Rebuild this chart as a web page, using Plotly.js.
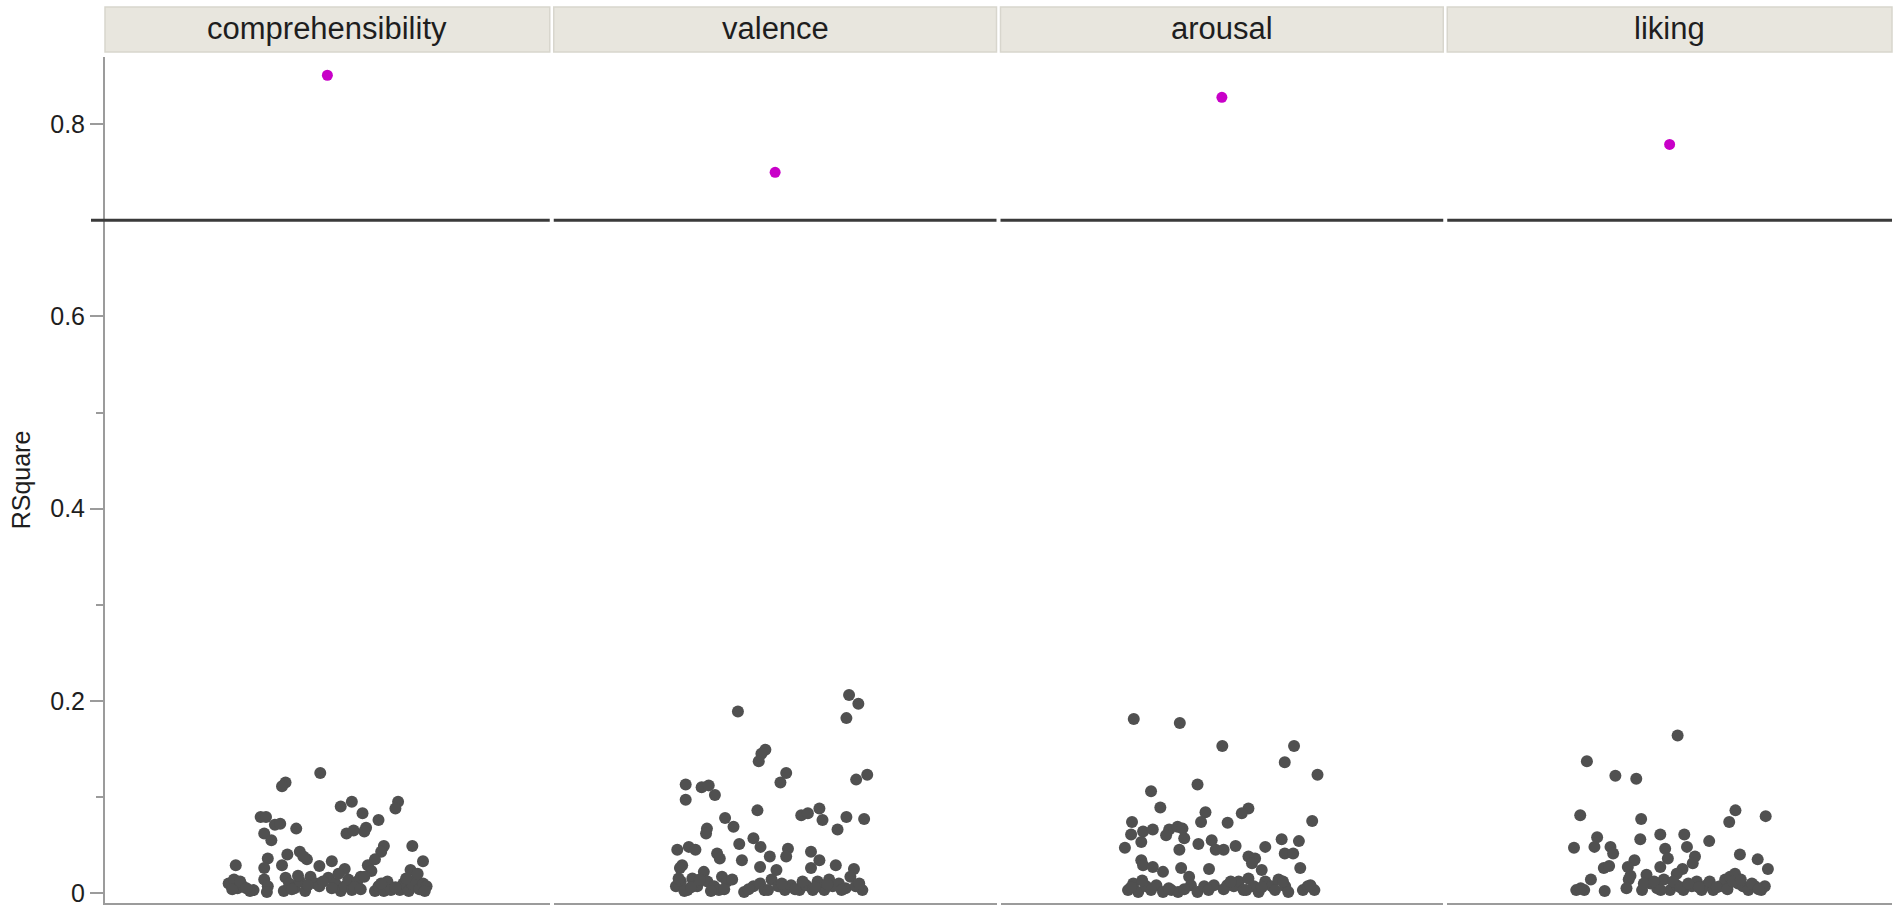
<!DOCTYPE html>
<html>
<head>
<meta charset="utf-8">
<script src="https://cdn.plot.ly/plotly-3.0.1.min.js"></script>
<style>
  html, body { margin: 0; padding: 0; background: #fff; }
  #rsq { width: 1902px; height: 913px; }
</style>
</head>
<body>
<div id="rsq"></div>
<script>
var categories = ["comprehensibility", "valence", "arousal", "liking"];

// RSquare of the actual model (magenta dots), one per category
var modelRSquare = [0.851, 0.750, 0.828, 0.779];

// reference line
var threshold = 0.7;

// permutation runs: horizontal jitter inside the panel (-0.5..0.5) and RSquare
var compJitter = [-0.016, -0.094, -0.102, 0.055, 0.030, 0.159, 0.153, 0.079, 0.115, 0.087, 0.083, 0.043, 0.059,
  -0.150, -0.138, -0.118, -0.106, -0.070, -0.142, -0.126, 0.127, 0.121, 0.191, 0.215, 0.187, -0.206, -0.090,
  -0.062, -0.134, -0.142, -0.102, -0.046, -0.054, 0.010, -0.018, 0.039, 0.091, 0.107, 0.099, 0.075,
  -0.222, -0.210, -0.202, -0.190, -0.174, -0.166, -0.142, -0.134, -0.136,
  -0.094, -0.098, -0.086, -0.074, -0.062, -0.050, -0.038, -0.026, -0.018,
  0.002, 0.018, 0.030, 0.039, 0.047, 0.055, 0.067, 0.083,
  0.107, 0.115, 0.127, 0.135, 0.143,
  0.163, 0.171, 0.183, 0.191, 0.199, 0.207, 0.215, 0.223,
  -0.214, -0.196, -0.182, -0.080, -0.066, -0.044, -0.010, 0.010, 0.025, 0.061, 0.075, 0.121, 0.153, 0.177,
  0.219, 0.203];
var compRSquare = [0.125, 0.115, 0.111, 0.095, 0.090, 0.095, 0.088, 0.083, 0.076, 0.068, 0.064, 0.062, 0.065,
  0.079, 0.079, 0.071, 0.072, 0.067, 0.062, 0.055, 0.049, 0.043, 0.049, 0.033, 0.024, 0.029, 0.040,
  0.043, 0.036, 0.026, 0.029, 0.035, 0.038, 0.033, 0.028, 0.025, 0.029, 0.035, 0.023, 0.017,
  0.010, 0.014, 0.005, 0.007, 0.002, 0.003, 0.014, 0.007, 0.001,
  0.016, 0.002, 0.010, 0.005, 0.012, 0.002, 0.017, 0.010, 0.007,
  0.016, 0.010, 0.002, 0.007, 0.014, 0.003, 0.012, 0.017,
  0.002, 0.007, 0.002, 0.012, 0.003,
  0.003, 0.010, 0.002, 0.009, 0.014, 0.004, 0.010, 0.007,
  0.004, 0.012, 0.005, 0.004, 0.018, 0.008, 0.012, 0.005, 0.020, 0.006, 0.004, 0.010, 0.006, 0.015,
  0.002, 0.020];

var valJitter = [0.167, 0.188, 0.161, -0.084, -0.022, -0.031, -0.037, 0.025, 0.012, 0.208, 0.183, -0.202, -0.202,
  -0.166, -0.150, -0.136, -0.040, -0.113, -0.094, 0.059, 0.074, 0.100, 0.107, 0.161, 0.201, 0.141, -0.154,
  -0.156, -0.049, -0.033, -0.012, -0.081, -0.221, -0.195, -0.180, -0.131, -0.125, 0.029, 0.025, 0.081, 0.100,
  -0.075, -0.210, -0.215, 0.137, 0.178, -0.034, 0.003, 0.081,
  -0.224, -0.213, -0.198, -0.187, -0.176, -0.161, -0.153, -0.138, -0.127, -0.120, -0.109, -0.097,
  -0.070, -0.049, -0.034, -0.024, -0.008, 0.007, 0.022, 0.036, 0.055, 0.070, 0.085, 0.096, 0.111,
  0.122, 0.130, 0.144, 0.159, 0.170, 0.182, 0.197,
  -0.218, -0.205, -0.190, -0.170, -0.145, -0.115, -0.060, -0.016, 0.015, 0.045, 0.062, 0.090, 0.118,
  0.150, 0.190];
var valRSquare = [0.206, 0.197, 0.182, 0.189, 0.149, 0.145, 0.137, 0.125, 0.115, 0.123, 0.118, 0.113, 0.097,
  0.110, 0.112, 0.102, 0.086, 0.078, 0.069, 0.081, 0.083, 0.088, 0.076, 0.079, 0.077, 0.066, 0.067,
  0.062, 0.057, 0.048, 0.038, 0.051, 0.045, 0.048, 0.045, 0.041, 0.036, 0.046, 0.038, 0.043, 0.034,
  0.034, 0.029, 0.026, 0.029, 0.025, 0.027, 0.024, 0.026,
  0.007, 0.012, 0.003, 0.015, 0.007, 0.022, 0.012, 0.007, 0.003, 0.017, 0.012, 0.014,
  0.001, 0.007, 0.010, 0.003, 0.014, 0.007, 0.003, 0.008, 0.003, 0.008, 0.003, 0.012, 0.003,
  0.014, 0.007, 0.010, 0.005, 0.017, 0.007, 0.003,
  0.015, 0.002, 0.006, 0.014, 0.002, 0.004, 0.004, 0.003, 0.010, 0.004, 0.012, 0.006, 0.009,
  0.003, 0.010];

var arouJitter = [-0.199, -0.095, 0.001, 0.163, 0.142, 0.216, -0.160, -0.055, -0.139, -0.037, -0.047, 0.013,
  0.060, 0.045, 0.204, -0.203, -0.205, -0.178, -0.156, -0.182, -0.119, -0.100, -0.089, -0.126, -0.085,
  -0.096, -0.219, -0.053, -0.023, -0.014, 0.004, 0.031, 0.098, 0.135, 0.174, 0.142, 0.161, 0.060, 0.075,
  0.068, -0.182, -0.178, 0.177, -0.092, -0.029, -0.156, -0.133, -0.074, 0.090,
  -0.212, -0.200, -0.189, -0.171, -0.148, -0.133, -0.114, -0.099, -0.070, -0.055, -0.040, -0.018, 0.012,
  0.027, 0.038, 0.049, 0.060, 0.072, 0.083, 0.098, 0.113, 0.128, 0.143, 0.150, 0.183, 0.194, 0.209,
  -0.205, -0.180, -0.160, -0.120, -0.085, -0.030, 0.004, 0.020, 0.055, 0.090, 0.120, 0.138, 0.200];
var arouRSquare = [0.181, 0.177, 0.153, 0.153, 0.136, 0.123, 0.106, 0.113, 0.089, 0.084, 0.074, 0.073,
  0.088, 0.083, 0.075, 0.074, 0.061, 0.064, 0.066, 0.053, 0.066, 0.069, 0.067, 0.060, 0.057,
  0.045, 0.047, 0.051, 0.055, 0.045, 0.045, 0.049, 0.048, 0.056, 0.054, 0.041, 0.041, 0.038, 0.036,
  0.031, 0.034, 0.029, 0.026, 0.026, 0.025, 0.027, 0.022, 0.017, 0.024,
  0.003, 0.010, 0.001, 0.007, 0.008, 0.001, 0.003, 0.001, 0.008, 0.001, 0.007, 0.008, 0.008,
  0.007, 0.012, 0.003, 0.015, 0.007, 0.001, 0.012, 0.007, 0.014, 0.007, 0.001, 0.003, 0.007, 0.003,
  0.006, 0.013, 0.003, 0.005, 0.004, 0.003, 0.004, 0.012, 0.003, 0.006, 0.003, 0.012, 0.008];

var likJitter = [0.018, -0.186, -0.122, -0.075, -0.201, -0.064, 0.148, 0.134, 0.216, -0.163, -0.169, -0.133,
  -0.127, -0.215, -0.066, -0.021, 0.033, 0.039, 0.057, 0.052, -0.010, -0.004, 0.089, 0.158, 0.198, 0.221,
  -0.148, -0.136, -0.079, -0.094, -0.092, -0.097, -0.021, 0.029, 0.016, -0.177, -0.210, -0.192, -0.146,
  -0.062, -0.052, -0.043, -0.028, -0.013, 0.001, 0.016, 0.031, 0.050, 0.061, 0.072, 0.083, 0.098,
  0.113, 0.125, 0.136, 0.147, 0.154, 0.165, 0.177, 0.192, 0.206, 0.214,
  -0.058, -0.035, -0.020, 0.008, 0.024, 0.042, 0.066, 0.090, 0.106, 0.130, 0.142, 0.160, 0.185, 0.200,
  -0.200, -0.088];
var likRSquare = [0.164, 0.137, 0.122, 0.119, 0.081, 0.077, 0.086, 0.074, 0.080, 0.058, 0.048, 0.048,
  0.041, 0.047, 0.056, 0.061, 0.061, 0.048, 0.038, 0.031, 0.046, 0.036, 0.054, 0.040, 0.035, 0.025,
  0.026, 0.028, 0.034, 0.027, 0.014, 0.005, 0.027, 0.025, 0.020, 0.014, 0.003, 0.003, 0.002,
  0.003, 0.019, 0.010, 0.005, 0.014, 0.003, 0.008, 0.003, 0.007, 0.012, 0.003, 0.008, 0.003,
  0.007, 0.014, 0.017, 0.020, 0.010, 0.007, 0.003, 0.007, 0.003, 0.007,
  0.010, 0.012, 0.003, 0.012, 0.006, 0.010, 0.006, 0.012, 0.006, 0.004, 0.012, 0.014, 0.010, 0.004,
  0.005, 0.018];

var jitters = [compJitter, valJitter, arouJitter, likJitter];
var rsquares = [compRSquare, valRSquare, arouRSquare, likRSquare];

// page geometry (px)
var W = 1902, H = 913;
var mL = 105, mR = 10, mT = 57, mB = 10;
var plotW = W - mL - mR, plotH = H - mT - mB;
var halfGap = 2 / plotW;

var axisGrey = "#9b9b9b";
var font = "Liberation Sans, Arial, Helvetica, sans-serif";

function suffix(i) { return i == 0 ? "" : String(i + 1); }

function domainOf(i) {
  return [i / 4 + (i > 0 ? halfGap : 0), (i + 1) / 4 - (i < 3 ? halfGap : 0)];
}

var data = [];
var layout = {
  width: W, height: H,
  margin: {l: mL, r: mR, t: mT, b: mB},
  paper_bgcolor: "#fff", plot_bgcolor: "#fff",
  showlegend: false,
  font: {family: font, color: "#1e1e1e"},
  yaxis: {
    range: [-0.0104, 0.870],
    tick0: 0, dtick: 0.2,
    ticks: "outside", ticklen: 13, tickwidth: 2, tickcolor: axisGrey,
    minor: {dtick: 0.1, ticks: "outside", ticklen: 7, tickwidth: 2, tickcolor: axisGrey, showgrid: false},
    tickfont: {size: 25, family: font, color: "#1e1e1e"},
    showline: true, linecolor: axisGrey, linewidth: 2,
    showgrid: false, zeroline: false,
    title: {text: "RSquare", font: {size: 25, family: font, color: "#1e1e1e"}, standoff: 12}
  },
  shapes: [],
  annotations: []
};

categories.forEach(function(cat, i) {
  var dom = domainOf(i);
  layout["xaxis" + suffix(i)] = {
    domain: dom, anchor: "y", range: [-0.5, 0.5],
    showticklabels: false, ticks: "",
    showline: true, linecolor: axisGrey, linewidth: 2,
    showgrid: false, zeroline: false
  };

  // grey permutation dots
  data.push({
    x: jitters[i], y: rsquares[i],
    xaxis: "x" + suffix(i), yaxis: "y",
    type: "scatter", mode: "markers",
    marker: {color: "#505050", size: 12, line: {width: 0}},
    hoverinfo: "y"
  });
  // magenta model dot
  data.push({
    x: [0], y: [modelRSquare[i]],
    xaxis: "x" + suffix(i), yaxis: "y",
    type: "scatter", mode: "markers",
    marker: {color: "#c800c8", size: 11, line: {width: 0}},
    hoverinfo: "y"
  });

  // header strip above each panel
  layout.shapes.push({
    type: "rect", xref: "paper", yref: "paper",
    x0: dom[0], x1: dom[1],
    y0: 1 + (mT - 52) / plotH, y1: 1 + (mT - 7) / plotH,
    fillcolor: "#e8e6de", line: {color: "#d8d6cd", width: 1.5},
    layer: "below"
  });
  layout.annotations.push({
    text: cat, xref: "paper", yref: "paper",
    x: (dom[0] + dom[1]) / 2, y: 1 + (mT - 29) / plotH,
    xanchor: "center", yanchor: "middle", showarrow: false,
    font: {size: 31, family: font, color: "#1e1e1e"}
  });

  // threshold line, first one runs a bit past the y axis
  layout.shapes.push({
    type: "line", xref: "paper", yref: "y",
    x0: i == 0 ? -14 / plotW : dom[0], x1: dom[1],
    y0: threshold, y1: threshold,
    line: {color: "#3a3a3a", width: 3}
  });
});

Plotly.newPlot("rsq", data, layout, {staticPlot: true});
</script>
</body>
</html>
